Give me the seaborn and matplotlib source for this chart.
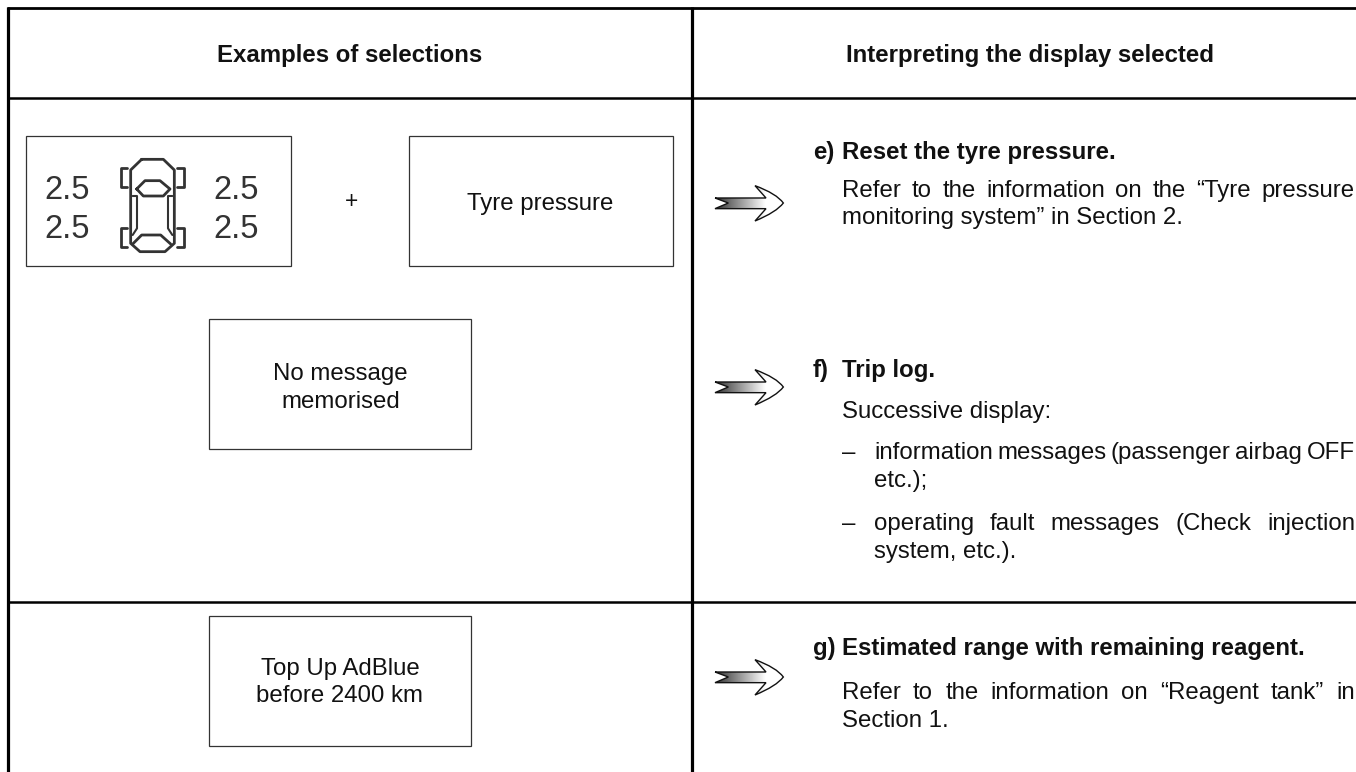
import numpy as np
import matplotlib
matplotlib.use("Agg")
import matplotlib.pyplot as plt
import seaborn as sns
from matplotlib.patches import Rectangle, PathPatch
from matplotlib.path import Path

sns.set_theme(style="white")
plt.rcParams['font.family'] = ['Liberation Sans', 'DejaVu Sans']

headers = ["Examples of selections", "Interpreting the display selected"]
box_no_message = ["No message", "memorised"]
box_top_up = ["Top Up AdBlue", "before 2400 km"]
box_tyre = "Tyre pressure"
pressures = ["2.5", "2.5", "2.5", "2.5"]
section_marks = ["e)", "f)", "g)"]
section_titles = ["Reset the tyre pressure.", "Trip log.", "Estimated range with remaining reagent."]
body_e = ["Refer to the information on the “Tyre pressure", "monitoring system” in Section 2."]
body_f = ["Successive display:"]
body_f1 = ["information messages (passenger airbag OFF", "etc.);"]
body_f2 = ["operating fault messages (Check injection", "system, etc.)."]
body_g = ["Refer to the information on “Reagent tank” in", "Section 1."]

FS = 17.25
fig = plt.figure(figsize=(13.56, 7.72), dpi=100)
ax = fig.add_axes([0, 0, 1, 1])
ax.set_xlim(0, 1356)
ax.set_ylim(772, 0)
ax.axis("off")
ink = "#111111"

# frame
for xs, ys, lw in [((8, 8), (7, 772), 2.3), ((692, 692), (7, 772), 2.3),
                   ((7, 1356), (8, 8), 2.0), ((7, 1356), (98, 98), 1.8), ((7, 1356), (602, 602), 1.8)]:
    ax.plot(xs, ys, color="black", lw=lw, solid_capstyle="butt")

def plain(s, x, y, ha="left", size=FS, **kw):
    ax.text(x, y, s, fontsize=size, va="baseline", ha=ha, color=kw.pop("color", ink), **kw)

plain(headers[0], 350, 62, ha="center", fontweight="bold")
plain(headers[1], 1029.5, 62, ha="center", fontweight="bold")

# boxes
for x0, y0, x1, y1 in [(26, 136, 291, 266), (409, 136, 673, 266), (209, 319, 471, 449), (209, 616, 471, 746)]:
    ax.add_patch(Rectangle((x0, y0), x1 - x0, y1 - y0, fill=False, ec="#333333", lw=0.9))
plain(box_tyre, 540.5, 210, ha="center")
plain(box_no_message[0], 340.5, 380, ha="center")
plain(box_no_message[1], 340.5, 407.5, ha="center")
plain(box_top_up[0], 340, 675, ha="center")
plain(box_top_up[1], 340, 701.5, ha="center")
ax.text(352, 202, "+", ha="center", va="center", fontsize=FS - 1, color=ink)

# pressures
for (x, y), s in zip([(67, 199), (67, 238), (236.5, 199), (236.5, 238)], pressures):
    plain(s, x, y, ha="center", size=23.5, color="#333333")

# car icon (zoom-crop coordinates)
def car(pts, closed=True, lw=2.0):
    p = np.array(pts, float) / 3 + np.array([0, 120])
    if closed:
        p = np.vstack([p, p[0]])
    ax.plot(p[:, 0], p[:, 1], color="#333333", lw=lw, solid_joinstyle="round", solid_capstyle="round")
car([(425, 118), (490, 118), (523, 150), (523, 370), (495, 395), (420, 395), (392, 370), (392, 150)])
car([(410, 207), (435, 182), (480, 182), (510, 207), (490, 228), (430, 228)])
car([(398, 372), (425, 345), (482, 345), (512, 372)], closed=False)
car([(398, 228), (411, 228), (411, 325), (398, 345)], closed=False, lw=1.5)
car([(517, 228), (504, 228), (504, 325), (517, 345)], closed=False, lw=1.5)
for pts in [[(380, 143), (362, 143), (362, 200), (380, 200)],
            [(532, 143), (552, 143), (552, 200), (532, 200)],
            [(380, 323), (362, 323), (362, 380), (380, 380)],
            [(532, 323), (552, 323), (552, 380), (532, 380)]]:
    car(pts, closed=False)

# arrows
def arrow(cy):
    ox, oy = 680, cy - 98 / 3
    raw = [(105, 83), (258, 83), (225, 46), (290, 70), (310, 98), (290, 125), (225, 152), (258, 115), (105, 115), (145, 98), (105, 83)]
    codes = [Path.MOVETO, Path.LINETO, Path.LINETO, Path.CURVE3, Path.CURVE3, Path.CURVE3, Path.CURVE3,
             Path.LINETO, Path.LINETO, Path.LINETO, Path.LINETO]
    v = np.array(raw, float) / 3 + [ox, oy]
    path = Path(v, codes)
    grad = np.linspace(0.2, 1, 64).reshape(1, -1)
    im = ax.imshow(grad, extent=(ox + 105 / 3, ox + 258 / 3, cy + 20, cy - 20), cmap="gray", vmin=0, vmax=1,
                   aspect="auto", zorder=1)
    im.set_clip_path(PathPatch(path, transform=ax.transData))
    ax.add_patch(PathPatch(path, fc="none", ec="#111111", lw=1.0, zorder=2))
for cy in (203, 387, 677):
    arrow(cy)
ax.set_xlim(0, 1356)
ax.set_ylim(772, 0)

# justified text
fig.canvas.draw()
rend = fig.canvas.get_renderer()
def width(s):
    t = ax.text(0, 0, s, fontsize=FS)
    w = t.get_window_extent(rend).width
    t.remove()
    return w
def justified(s, x0, x1, y):
    words = s.split(" ")
    ws = [width(w) for w in words]
    gap = (x1 - x0 - sum(ws)) / (len(words) - 1)
    x = x0
    for w, wd in zip(words, ws):
        ax.text(x, y, w, fontsize=FS, va="baseline", color=ink)
        x += wd + gap

for mark, title, y in zip(section_marks, section_titles, (159, 377, 655)):
    plain(mark, 813, y, fontweight="bold")
    plain(title, 842, y, fontweight="bold")

justified(body_e[0], 842, 1355, 197)
plain(body_e[1], 842, 224)
plain(body_f[0], 842, 418)
plain("–", 842, 459)
justified(body_f1[0], 874, 1355, 459)
plain(body_f1[1], 874, 487)
plain("–", 842, 530)
justified(body_f2[0], 874, 1355, 530)
plain(body_f2[1], 874, 558)
justified(body_g[0], 842, 1355, 699)
plain(body_g[1], 842, 727)

fig.savefig("out.png", dpi=100, facecolor="white")
